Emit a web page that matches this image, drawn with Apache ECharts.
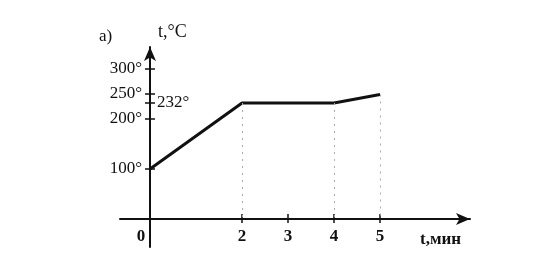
<!DOCTYPE html>
<html><head><meta charset="utf-8">
<script src="https://cdn.jsdelivr.net/npm/echarts@6/dist/echarts.min.js"></script>
<style>html,body{margin:0;padding:0;background:#fff}#c{width:542px;height:265px}</style>
</head><body><div id="c"></div>
<script>
const timeMin = [0, 2, 4, 5];
const tempC = [100, 232, 232, 249];
const xTicks = [2, 3, 4, 5];
const xLabels = [0, 2, 3, 4, 5];
const yLabelsLeft = [100, 200, 250, 300];
const yLabelsRight = [232];
const yTicks = [100, 200, 232, 250, 300];
const dropPoints = [2, 4, 5];

const F = 'Liberation Serif';
const ink = '#111';
// geometry: grid 350x200; 46 px per minute, 0.5 px per degree; origin 30px right / 28px up from grid corner
const X_MIN = -30 / 46, X_MAX = 320 / 46;
const Y_MIN = -56, Y_MAX = 344;
const chart = echarts.init(document.getElementById('c'));

const tickStyle = { color: ink, width: 1.5 };
const xBase = { type: 'value', min: X_MIN, max: X_MAX, position: 'bottom', offset: -28, splitLine: { show: false } };
const yBase = { type: 'value', min: Y_MIN, max: Y_MAX, position: 'left', offset: -30, splitLine: { show: false } };

chart.setOption({
  animation: false,
  backgroundColor: '#fff',
  title: { text: 'а)', left: 94, top: 23, textStyle: { fontFamily: F, fontSize: 17, fontWeight: 'normal', color: ink } },
  grid: { left: 120, right: 72, top: 47, bottom: 18 },
  xAxis: [Object.assign({}, xBase, {
    axisLine: { onZero: false, lineStyle: { color: ink, width: 2 }, symbol: ['none', 'arrow'], symbolSize: [9, 14] },
    axisTick: { customValues: xTicks, inside: true, length: 5, lineStyle: tickStyle },
    axisLabel: { customValues: xLabels, fontFamily: F, fontSize: 17, fontWeight: 'bold', color: ink, margin: 9,
      formatter: v => v === 0 ? '{z|0}' : String(v), rich: { z: { fontFamily: F, fontSize: 17, fontWeight: 'bold', color: ink, padding: [0, 18, 0, 0] } } },
    name: 't,мин', nameLocation: 'end', nameGap: -50,
    nameTextStyle: { fontFamily: F, fontSize: 17, fontWeight: 'bold', color: ink, verticalAlign: 'top', padding: [12, 0, 0, 0] }
  }), Object.assign({}, xBase, {
    axisLine: { show: false, onZero: false }, axisLabel: { show: false },
    axisTick: { customValues: xTicks, inside: false, length: 4, lineStyle: tickStyle }
  })],
  yAxis: [Object.assign({}, yBase, {
    axisLine: { onZero: false, lineStyle: { color: ink, width: 2 }, symbol: ['none', 'arrow'], symbolSize: [9, 14] },
    axisTick: { customValues: yTicks, inside: false, length: 5, lineStyle: tickStyle },
    axisLabel: { customValues: yLabelsLeft, fontFamily: F, fontSize: 17, color: ink, margin: 8, formatter: v => v + '°' },
    name: 't,°C', nameLocation: 'end', nameGap: 6,
    nameTextStyle: { fontFamily: F, fontSize: 18, color: ink, align: 'left', padding: [0, 0, 0, 8] }
  }), Object.assign({}, yBase, {
    axisLine: { show: false, onZero: false },
    axisTick: { customValues: yTicks, inside: true, length: 5, lineStyle: tickStyle },
    axisLabel: { customValues: yLabelsRight, inside: true, fontFamily: F, fontSize: 17, color: ink, margin: 7, formatter: v => v + '°' }
  })],
  series: [{
    type: 'line',
    data: timeMin.map((t, i) => [t, tempC[i]]),
    showSymbol: false,
    lineStyle: { color: ink, width: 3 },
    markLine: {
      silent: true, symbol: 'none', label: { show: false },
      lineStyle: { color: '#aaa', type: [2, 5], width: 1 },
      data: dropPoints.map(t => [{ coord: [t, tempC[timeMin.indexOf(t)]] }, { coord: [t, 0] }])
    }
  }]
});
</script></body></html>
